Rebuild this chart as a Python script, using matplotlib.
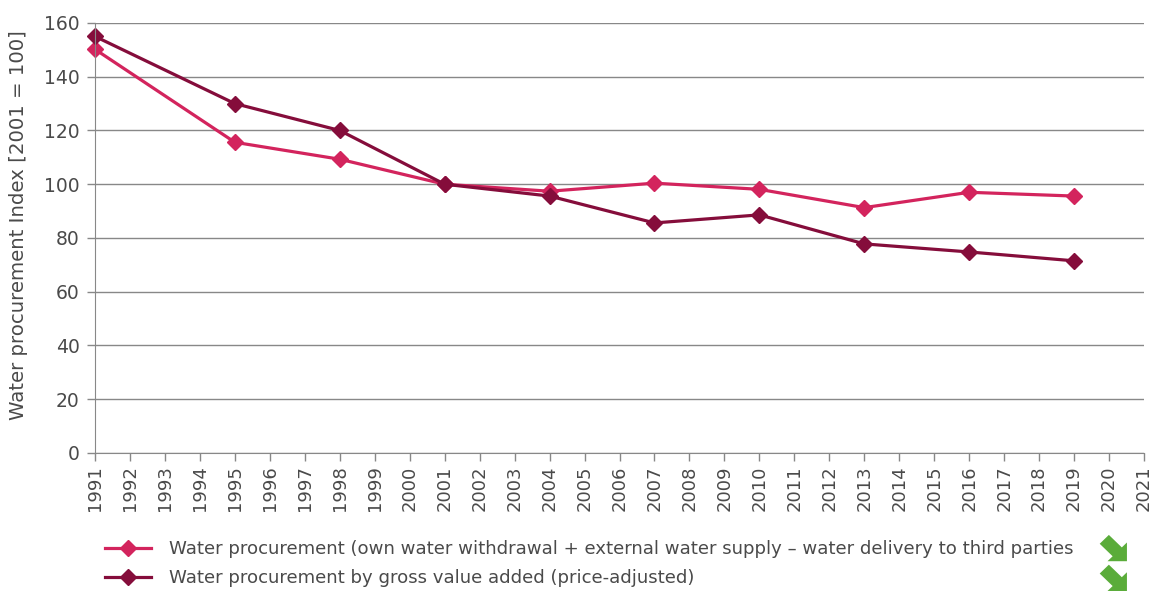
import matplotlib.pyplot as plt
from matplotlib.patches import Polygon
import numpy as np

# data
years = [1991, 1995, 1998, 2001, 2004, 2007, 2010, 2013, 2016, 2019]
procurement = [150.2, 115.6, 109.3, 100.0, 97.4, 100.4, 98.1, 91.3, 97.0, 95.6]
procurement_gva = [155.0, 130.0, 120.0, 100.0, 95.6, 85.6, 88.6, 77.8, 74.8, 71.5]
labels = ['Water procurement (own water withdrawal + external water supply \u2013 water delivery to third parties',
          'Water procurement by gross value added (price-adjusted)']
x_ticks = list(range(1991, 2022))
y_ticks = [0, 20, 40, 60, 80, 100, 120, 140, 160]

pink = '#d3245d'
dark = '#850d3b'
grey = '#888888'
txt = '#4a4a4a'

plt.rcParams['font.family'] = ['DejaVu Sans']

fig = plt.figure(figsize=(11.53, 5.92), dpi=100)
ax = fig.add_axes([0.0824, 0.2348, 0.9098, 0.7264])

l1, = ax.plot(years, procurement, color=pink, lw=2.3, marker='D', ms=8.5,
              label=labels[0], clip_on=False)
l2, = ax.plot(years, procurement_gva, color=dark, lw=2.3, marker='D', ms=8.5,
              label=labels[1], clip_on=False)

ax.set_xlim(1991, 2021)
ax.set_ylim(0, 160)
ax.set_xticks(x_ticks)
ax.set_xticklabels([str(y) for y in x_ticks], rotation=90, fontsize=13, color=txt)
ax.set_yticks(y_ticks)
ax.set_yticklabels([str(v) for v in y_ticks], fontsize=13.5, color=txt)
ax.grid(axis='y', color=grey, lw=1)
ax.set_axisbelow(True)
for s in ['top', 'right']:
    ax.spines[s].set_visible(False)
for s in ['left', 'bottom']:
    ax.spines[s].set_color(grey)
ax.tick_params(axis='both', color=grey, length=6, width=1)
ax.tick_params(axis='x', pad=3)
ax.tick_params(axis='y', pad=5)
ax.set_ylabel('Water procurement Index [2001 = 100]', fontsize=14.2, color=txt)
ax.yaxis.set_label_coords(-0.064, 0.53)

leg = fig.legend(handles=[l1, l2], loc='upper left', bbox_to_anchor=(0.085, 0.1),
                 frameon=False, fontsize=13.1, handlelength=2.5, labelspacing=0.6,
                 handletextpad=1.0, borderaxespad=0)
for t in leg.get_texts():
    t.set_color(txt)

# green trend arrows (down-right)
arrow = np.array([[1.0, 0.0], [1.0, 0.72], [0.81, 0.53], [0.33, 1.01], [-0.01, 0.67],
                  [0.47, 0.19], [0.28, 0.0]])
for cy in [0.052, 0.0017]:
    pts = arrow * [0.0234, 0.044] + [0.954, cy]
    fig.patches.append(Polygon(pts, closed=True, transform=fig.transFigure,
                               color='#5aac3a', lw=0))

fig.savefig('out.png', dpi=100)
